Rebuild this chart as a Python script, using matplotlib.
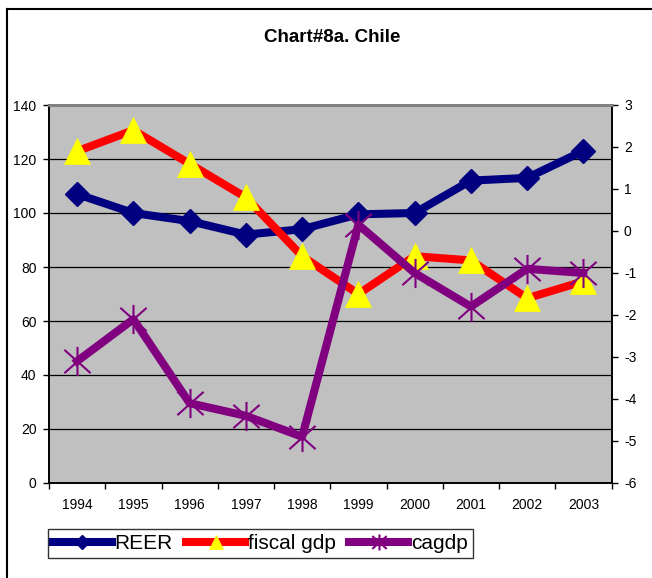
import matplotlib
matplotlib.use("Agg")
import matplotlib.pyplot as plt
from matplotlib.path import Path
from matplotlib.lines import Line2D
import numpy as np

plt.rcParams['font.family'] = ['Liberation Sans', 'DejaVu Sans']
plt.rcParams['axes.unicode_minus'] = False

years = ['1994', '1995', '1996', '1997', '1998', '1999', '2000', '2001', '2002', '2003']
reer = [107, 100, 97, 92, 94, 99.5, 100, 112, 113, 123]
fiscal_gdp = [1.9, 2.4, 1.6, 0.8, -0.6, -1.5, -0.6, -0.7, -1.6, -1.2]
cagdp = [-3.1, -2.1, -4.1, -4.4, -4.9, 0.15, -1.0, -1.8, -0.9, -1.0]
left_ticks = [0, 20, 40, 60, 80, 100, 120, 140]
right_ticks = [-6, -5, -4, -3, -2, -1, 0, 1, 2, 3]

W, H = 652, 578
fig = plt.figure(figsize=(W / 100, H / 100), dpi=100)

# outer frame lines (top and left)
fig.add_artist(Line2D([7 / W, 1.0], [1 - 9 / H, 1 - 9 / H], color='black', lw=1.5, transform=fig.transFigure))
fig.add_artist(Line2D([7 / W, 7 / W], [0, 1 - 9 / H], color='black', lw=1.5, transform=fig.transFigure))

x0, x1 = 49, 611.5
y0, y1 = 105, 483
ax = fig.add_axes([x0 / W, 1 - y1 / H, (x1 - x0) / W, (y1 - y0) / H])
ax.set_facecolor('#C0C0C0')
ax2 = ax.twinx()

x = np.arange(len(years))
ax.set_xlim(-0.5, len(years) - 0.5)
ax.set_ylim(0, 140)
ax2.set_ylim(-6, 3)

ax.set_yticks(left_ticks)
ax2.set_yticks(right_ticks)
ax.yaxis.grid(True, color='black', lw=0.9)
ax.set_axisbelow(True)

ax.set_xticks(x)
ax.set_xticklabels(years)
ax.set_xticks(np.arange(-0.5, len(years)), minor=True)
ax.tick_params(axis='x', which='major', length=0, pad=11, labelsize=10)
ax.tick_params(axis='x', which='minor', length=4, width=1, direction='out')
ax.tick_params(axis='y', length=4, width=1, direction='out', pad=5, labelsize=10)
ax2.tick_params(axis='y', length=4, width=1, direction='out', pad=5, labelsize=10)

for a in (ax, ax2):
    for s in a.spines.values():
        s.set_linewidth(1.2)
    a.spines['top'].set_color('#808080')
    a.spines['top'].set_linewidth(2)
ax.spines['left'].set_color('black')
ax2.spines['right'].set_color('black')

# star marker: X plus vertical line
star_path = Path(
    [(-0.9, -0.8), (0.9, 0.8), (-0.9, 0.8), (0.9, -0.8), (0, -1), (0, 1)],
    [Path.MOVETO, Path.LINETO, Path.MOVETO, Path.LINETO, Path.MOVETO, Path.LINETO])

l1, = ax.plot(x, reer, color='#000080', lw=5.8, marker='D', ms=12.5,
              markerfacecolor='#000080', markeredgecolor='#000080', markeredgewidth=1,
              label='REER', zorder=3, solid_joinstyle='round')
l2, = ax2.plot(x, fiscal_gdp, color='#FF0000', lw=5.8, marker='^', ms=19,
               markerfacecolor='#FFFF00', markeredgecolor='#FFFF00', markeredgewidth=0.5,
               label='fiscal gdp', zorder=3, solid_joinstyle='round')
l3, = ax2.plot(x, cagdp, color='#800080', lw=5.8, marker=star_path, ms=21,
               markerfacecolor='none', markeredgecolor='#800080', markeredgewidth=1.5,
               label='cagdp', zorder=4, solid_joinstyle='round')

fig.text(332 / W, 1 - 37 / H, 'Chart#8a. Chile', ha='center', va='center',
         fontsize=13.5, fontweight='bold')

leg = fig.legend(handles=[l1, l2, l3], loc='upper left',
                 bbox_to_anchor=(48 / W, 1 - 529 / H), ncol=3, frameon=True,
                 fontsize=15, handlelength=2.8, handletextpad=0.15, columnspacing=0.65,
                 borderpad=0.25, borderaxespad=0, fancybox=False, markerscale=0.55)
leg.get_frame().set_edgecolor('black')
leg.get_frame().set_linewidth(1)

fig.savefig('out.png', dpi=100)
